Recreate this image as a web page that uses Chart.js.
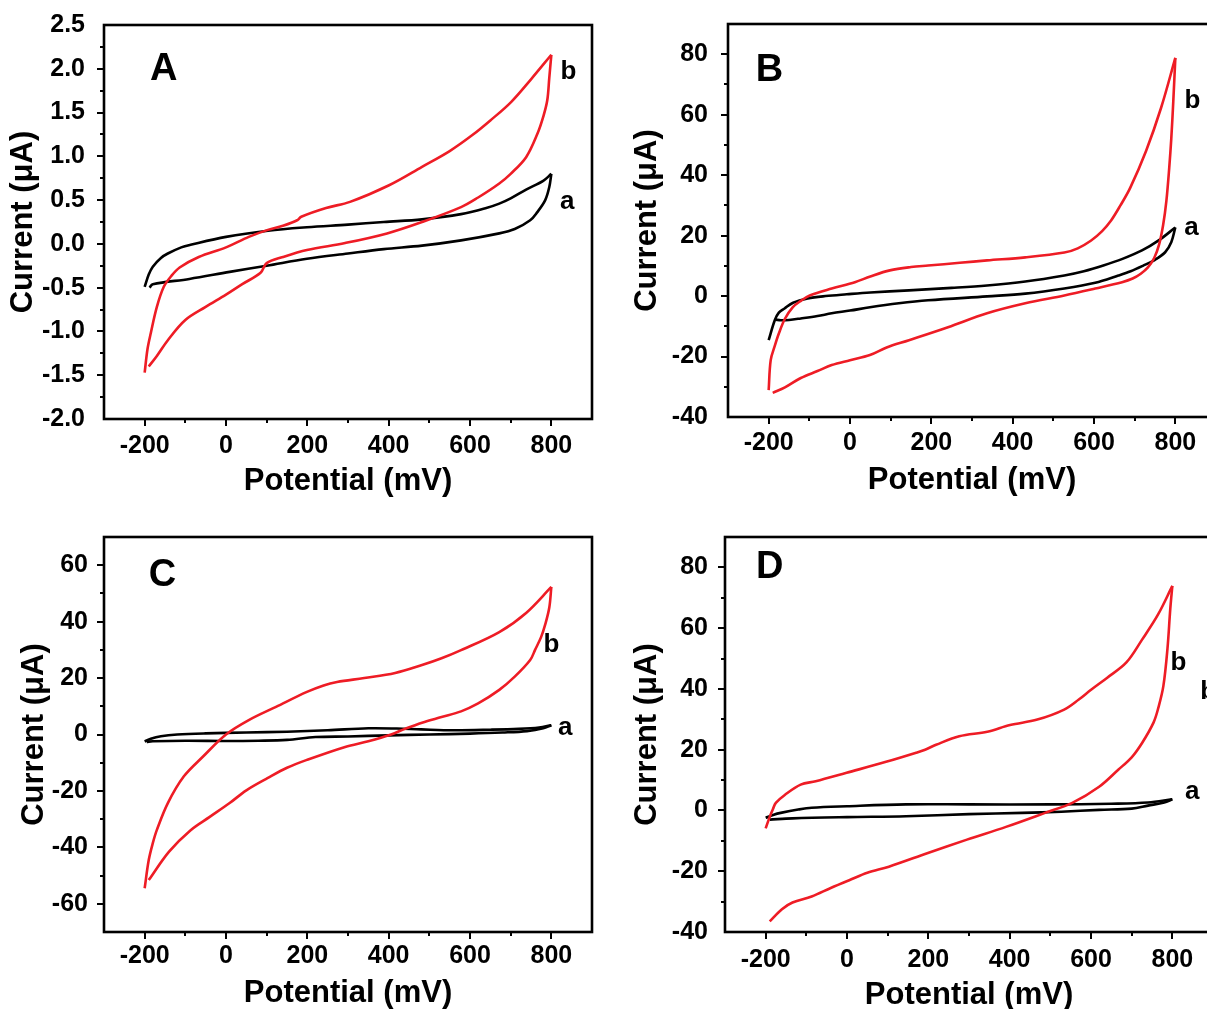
<!DOCTYPE html>
<html><head><meta charset="utf-8">
<script src="https://cdn.jsdelivr.net/npm/chart.js@4.4.1/dist/chart.umd.min.js"></script>
<style>
html,body{margin:0;padding:0;background:#fff;width:1207px;height:1009px;overflow:hidden;position:relative;}
canvas{position:absolute;}
</style></head><body>
<canvas id="cA" width="603" height="505" style="left:0px;top:0px"></canvas>
<canvas id="cB" width="620" height="505" style="left:603px;top:0px"></canvas>
<canvas id="cC" width="603" height="520" style="left:0px;top:505px"></canvas>
<canvas id="cD" width="620" height="520" style="left:603px;top:505px"></canvas>
<script>
// ---------- shared axis labels ----------
const xTickLabels = [-200, 0, 200, 400, 600, 800];
const xTitle = 'Potential (mV)';
const yTitle = 'Current (μA)';

// ---------- Panel A (current in μA) ----------
const A_b_E = [-200,-193,-185,-170,-153,-135,-114,-67,0,56,103,142,175,185,246,305,401,482,550,605,650,701,750,800,
               795,790,780,766,738,700,672,620,578,482,396,293,199,140,100,85,40,0,-50,-100,-143,-170,-190];
const A_b_I = [-1.47,-1.20,-1.02,-0.72,-0.49,-0.37,-0.27,-0.15,-0.04,0.08,0.16,0.21,0.27,0.31,0.41,0.48,0.67,0.88,1.06,1.24,1.41,1.62,1.88,2.16,
               1.90,1.64,1.45,1.26,0.99,0.80,0.69,0.53,0.42,0.25,0.12,0.01,-0.07,-0.15,-0.22,-0.33,-0.46,-0.58,-0.72,-0.87,-1.10,-1.28,-1.40];
const A_a_E = [-200,-190,-180,-160,-143,-110,-87,0,103,199,300,388,482,578,640,672,700,738,780,800,
               795,785,765,748,710,672,578,482,388,300,199,100,9,-90,-180,-188];
const A_a_I = [-0.49,-0.35,-0.26,-0.16,-0.11,-0.04,-0.01,0.08,0.15,0.19,0.22,0.25,0.28,0.34,0.41,0.46,0.52,0.62,0.72,0.80,
               0.65,0.50,0.36,0.27,0.17,0.12,0.04,-0.02,-0.06,-0.11,-0.17,-0.25,-0.32,-0.40,-0.46,-0.50];

// ---------- Panel B ----------
const B_b_E = [-200,-195,-185,-175,-160,-141,-120,-99,-45,12,50,98,150,192,270,337,431,527,560,593,620,642,665,689,728,765,800,
               795,790,785,778,770,760,748,732,715,695,669,603,527,431,337,241,145,90,49,0,-45,-80,-121,-160,-190];
const B_b_I = [-31.1,-21.2,-16.5,-12.4,-7.5,-3.7,-1.5,0.2,2.5,4.6,6.5,8.5,9.6,10.1,11.0,11.8,12.8,14.4,15.8,18.4,21.5,25.0,30.0,35.8,48.0,62.3,78.8,
               64.5,52.0,42.4,31.5,23.5,17.0,12.6,9.4,7.4,5.8,4.6,2.5,0.2,-2.4,-5.7,-10.3,-14.6,-17.0,-19.5,-21.2,-22.8,-24.8,-27.1,-30.2,-32.0];
const B_a_E = [-200,-185,-175,-161,-140,-104,-60,-8,50,145,250,337,431,527,575,623,670,718,760,800,
               790,775,750,720,690,660,603,527,431,337,192,120,49,0,-45,-80,-121,-150,-170,-183];
const B_a_I = [-14.6,-8.0,-5.5,-4.1,-2.2,-0.8,0.0,0.6,1.2,1.9,2.7,3.5,4.8,6.8,8.2,10.1,12.3,15.1,18.5,22.7,
               17.8,14.5,12.0,10.0,8.2,6.8,4.4,2.5,0.8,-0.1,-1.4,-2.4,-3.7,-4.8,-5.7,-6.6,-7.4,-7.9,-8.0,-7.8];

// ---------- Panel C ----------
const C_b_E = [-200,-190,-180,-170,-143,-104,-57,0,56,123,199,240,273,340,416,482,530,578,672,738,800,
               795,785,775,760,748,710,672,620,578,530,482,440,406,350,293,199,150,103,50,9,-40,-87,-140,-190];
const C_b_I = [-54.5,-44.5,-38.5,-33.8,-24.3,-14.9,-7.9,0.0,5.1,9.8,15.1,17.4,18.6,20.0,21.8,24.6,27.0,29.9,36.3,43.1,52.3,
               45.0,39.0,34.6,30.0,26.4,20.5,15.8,11.0,8.2,6.2,4.2,2.0,0.0,-2.4,-4.4,-9.0,-11.8,-15.4,-19.8,-24.3,-29.2,-33.9,-41.5,-51.6];
const C_a_E = [-200,-185,-160,-120,-50,50,150,250,350,420,480,560,650,720,770,800,
               780,740,680,600,500,400,300,220,150,80,0,-100,-180,-195];
const C_a_I = [-2.5,-1.5,-0.6,0.0,0.4,0.7,1.0,1.5,2.2,2.1,1.8,1.5,1.7,2.0,2.5,3.3,
               2.2,1.2,0.7,0.3,0.0,-0.3,-0.7,-0.9,-1.9,-2.2,-2.3,-2.2,-2.4,-2.6];

// ---------- Panel D ----------
const D_b_E = [-200,-190,-182,-175,-153,-114,-77,-1,96,170,192,219,276,345,401,468,534,570,601,640,687,726,765,800,
               795,788,778,766,754,726,700,667,620,554,487,391,295,199,103,50,8,-40,-87,-134,-160,-190];
const D_b_I = [-5.9,-2.1,0.5,2.5,5.1,8.5,9.6,12.4,16.0,19.0,20.0,21.6,24.4,25.9,28.1,29.9,33.2,36.5,39.8,43.7,48.7,56.3,64.5,73.9,
               66.4,53.2,41.0,34.0,29.0,22.3,17.5,13.4,7.8,2.5,-0.8,-5.4,-9.6,-14.0,-18.5,-20.5,-22.8,-25.5,-28.3,-30.3,-32.5,-36.5];
const D_a_E = [-200,-180,-163,-120,-87,0,145,300,500,650,740,800,
               780,740,700,620,527,431,300,145,0,-134,-190];
const D_a_I = [-2.4,-1.4,-0.8,0.3,0.9,1.4,2.0,2.0,2.0,2.2,2.6,3.7,
               2.6,1.6,0.6,0.2,-0.4,-0.8,-1.2,-1.9,-2.2,-2.6,-3.0];

// ---------- styling / layout ----------
const FONT = '"Liberation Sans", Arial, Helvetica, sans-serif';
const RED = '#ee1c25', BLACK = '#000000';

const panels = [
  { id:'cA', yMin:-2, yMax:2.5, yStep:0.25, yMajor:0.5, dec:1,
    curves:[[A_b_E,A_b_I,RED],[A_a_E,A_a_I,BLACK]],
    yW:104, xH:86, padTop:25, padRight:11, yPad:19, xPad:12, yTitlePad:5, xTitlePad:5,
    notes:[{t:'A',E:-153,I:1.99,s:38},{t:'b',E:842,I:1.96,s:26},{t:'a',E:839,I:0.48,s:26}] },
  { id:'cB', yMin:-40, yMax:90, yStep:10, yMajor:20, dec:0,
    curves:[[B_b_E,B_b_I,RED],[B_a_E,B_a_I,BLACK]],
    yW:125, xH:88, padTop:24, padRight:7, yPad:20, xPad:11, yTitlePad:26, xTitlePad:6,
    notes:[{t:'B',E:-198,I:74.7,s:38},{t:'b',E:842,I:64.5,s:26},{t:'a',E:840,I:22.5,s:26}] },
  { id:'cC', yMin:-70, yMax:70, yStep:10, yMajor:20, dec:0,
    curves:[[C_b_E,C_b_I,RED],[C_a_E,C_a_I,BLACK]],
    yW:104, xH:93, padTop:32, padRight:11, yPad:16, xPad:9, yTitlePad:16, xTitlePad:13,
    notes:[{t:'C',E:-156,I:56.5,s:38},{t:'b',E:800,I:31.7,s:26},{t:'a',E:834,I:2.3,s:26}] },
  { id:'cD', yMin:-40, yMax:90, yStep:10, yMajor:20, dec:0,
    curves:[[D_b_E,D_b_I,RED],[D_a_E,D_a_I,BLACK]],
    yW:122, xH:93, padTop:32, padRight:10, yPad:17, xPad:13, yTitlePad:26, xTitlePad:11,
    notes:[{t:'D',E:-190,I:80,s:38},{t:'b',E:815,I:48.7,s:26},{t:'a',E:849,I:6.2,s:26},{t:'b',E:888,I:39.1,s:26}] }
];

function isXMajor(v){ return xTickLabels.indexOf(Math.round(v)) >= 0; }
function isYMajor(v,p){ const r = v / p.yMajor; return Math.abs(r - Math.round(r)) < 1e-6; }

function splitLoop(E, I){
  let k = 0;
  for (let i = 1; i < E.length; i++) if (E[i] > E[k]) k = i;
  const pts = E.map((e, i) => ({x: e, y: I[i]}));
  return [pts.slice(0, k + 1), pts.slice(k)];
}

function framePlugin(p){
  return {
    id: 'frame_' + p.id,
    afterDraw(chart){
      const {ctx, chartArea: ca} = chart;
      const xs = chart.scales.x, ys = chart.scales.y;
      ctx.save();
      ctx.strokeStyle = '#000';
      ctx.lineWidth = 2;
      ctx.beginPath();
      xs.ticks.forEach(t => {
        if (t.value <= xs.min || t.value >= xs.max) return;
        const px = Math.round(xs.getPixelForValue(t.value));
        const len = isXMajor(t.value) ? 7 : 4;
        ctx.moveTo(px, ca.bottom); ctx.lineTo(px, ca.bottom + len);
      });
      ys.ticks.forEach(t => {
        if (t.value <= ys.min + 1e-9 || t.value >= ys.max - 1e-9) return;
        const py = Math.round(ys.getPixelForValue(t.value));
        const len = isYMajor(t.value, p) ? 7 : 4;
        ctx.moveTo(ca.left, py); ctx.lineTo(ca.left - len, py);
      });
      ctx.stroke();
      ctx.lineWidth = 2.6;
      ctx.strokeRect(ca.left, ca.top, ca.right - ca.left, ca.bottom - ca.top);
      ctx.fillStyle = '#000';
      ctx.textAlign = 'center';
      ctx.textBaseline = 'middle';
      p.notes.forEach(n => {
        ctx.font = 'bold ' + n.s + 'px ' + FONT;
        ctx.fillText(n.t, xs.getPixelForValue(n.E), ys.getPixelForValue(n.I));
      });
      ctx.restore();
    }
  };
}

function makePanel(p){
  const datasets = [];
  p.curves.forEach(([E, I, color]) => {
    splitLoop(E, I).forEach(seg => datasets.push({
      data: seg, borderColor: color, backgroundColor: color, borderWidth: 2.6,
      pointRadius: 0, showLine: true, tension: 0.35, fill: false
    }));
  });
  new Chart(document.getElementById(p.id), {
    type: 'scatter',
    data: { datasets },
    options: {
      responsive: false, animation: false, devicePixelRatio: 1,
      layout: { padding: { left: 0, top: p.padTop, right: p.padRight, bottom: 0 } },
      plugins: { legend: { display: false }, tooltip: { enabled: false } },
      scales: {
        x: {
          type: 'linear', min: -300, max: 900,
          grid: { display: false, drawTicks: false },
          border: { display: false },
          ticks: {
            stepSize: 100, autoSkip: false, maxRotation: 0, minRotation: 0, padding: p.xPad,
            color: '#000', font: { family: FONT, size: 25, weight: 'bold' },
            callback: v => isXMajor(v) ? String(Math.round(v)) : ''
          },
          title: { display: true, text: xTitle, color: '#000',
                   font: { family: FONT, size: 31, weight: 'bold' },
                   padding: { top: 0, bottom: p.xTitlePad } },
          afterFit: s => { s.height = p.xH; s.paddingLeft = 0; s.paddingRight = 0; }
        },
        y: {
          type: 'linear', min: p.yMin, max: p.yMax,
          grid: { display: false, drawTicks: false },
          border: { display: false },
          ticks: {
            stepSize: p.yStep, autoSkip: false, padding: p.yPad,
            color: '#000', font: { family: FONT, size: 25, weight: 'bold' },
            callback: v => isYMajor(v, p) ? Number(v).toFixed(p.dec) : ''
          },
          title: { display: true, text: yTitle, color: '#000',
                   font: { family: FONT, size: 31, weight: 'bold' },
                   padding: { top: p.yTitlePad, bottom: 0 } },
          afterFit: s => { s.width = p.yW; s.paddingTop = 0; s.paddingBottom = 0; }
        }
      }
    },
    plugins: [framePlugin(p)]
  });
}

panels.forEach(makePanel);
</script>
</body></html>
